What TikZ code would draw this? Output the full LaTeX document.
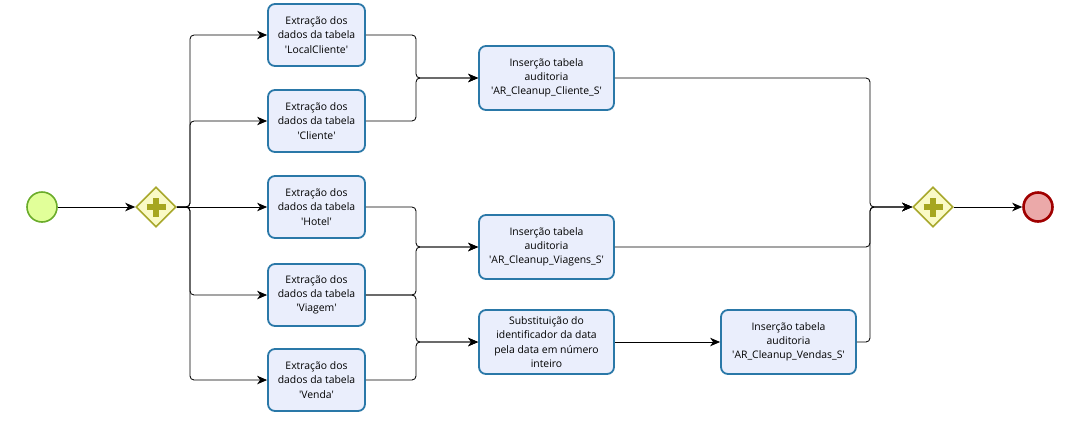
\documentclass[tikz,border=0pt]{standalone}
\usepackage{fontspec}
\setmainfont{Open Sans}
\usetikzlibrary{arrows.meta,shapes.geometric}
\definecolor{taskb}{HTML}{2A78A8}
\definecolor{taskf}{HTML}{EAEEFC}
\definecolor{gatb}{HTML}{A8A82C}
\definecolor{gatf}{HTML}{FAFAC6}
\definecolor{gatplus}{HTML}{A6A620}
\definecolor{startb}{HTML}{6AAC2A}
\definecolor{startf}{HTML}{E1FF99}
\definecolor{endb}{HTML}{A00000}
\definecolor{endf}{HTML}{EBA9A9}
\newcommand{\qq}{\textquotesingle}
\begin{document}
\begin{tikzpicture}[x=1pt,y=-1pt,
  task/.style={draw=taskb, fill=taskf, line width=1.8pt, rounded corners=7pt,
    minimum width=97pt, minimum height=62pt, align=center, text=black,
    font=\fontsize{10.4}{14.2}\selectfont, inner sep=1pt},
  widetask/.style={task, minimum width=135pt, minimum height=64pt},
  flow/.style={draw=black, line width=0.85pt, rounded corners=4pt,
    -{Stealth[length=10pt,width=8.5pt,inset=3pt]}},
  gateway/.style={diamond, draw=gatb, fill=gatf, line width=1.6pt,
    minimum width=40pt, minimum height=40pt, inner sep=0pt},
  startev/.style={circle, draw=startb, fill=startf, line width=1.6pt,
    minimum size=30pt, inner sep=0pt},
  endev/.style={circle, draw=endb, fill=endf, line width=2.6pt,
    minimum size=29pt, inner sep=0pt},
  plus/.style={draw=gatplus, line width=6pt}
]
\useasboundingbox (0,0) rectangle (1071,421);

% events and gateways
\node[startev] (s) at (42,207) {};
\node[gateway] (g1) at (156,207) {};
\node[gateway] (g2) at (933,207) {};
\node[endev] (e) at (1038,207) {};
\foreach \g in {g1,g2}{
  \draw[plus] ([xshift=-9.5pt]\g.center) -- ([xshift=9.5pt]\g.center);
  \draw[plus] ([yshift=-9.5pt]\g.center) -- ([yshift=9.5pt]\g.center);
}

% extraction tasks
\node[task] (t1) at (316.5,35)  {Extração dos\\dados da tabela\\\qq LocalCliente\qq};
\node[task] (t2) at (316.5,121) {Extração dos\\dados da tabela\\\qq Cliente\qq};
\node[task] (t3) at (316.5,207) {Extração dos\\dados da tabela\\\qq Hotel\qq};
\node[task] (t4) at (316.5,295) {Extração dos\\dados da tabela\\\qq Viagem\qq};
\node[task] (t5) at (316.5,380) {Extração dos\\dados da tabela\\\qq Venda\qq};

% second column
\node[widetask] (i1) at (546.5,78)  {Inserção tabela\\auditoria\\\qq AR\_Cleanup\_Cliente\_S\qq};
\node[widetask] (i2) at (546.5,247) {Inserção tabela\\auditoria\\\qq AR\_Cleanup\_Viagens\_S\qq};
\node[widetask] (sb) at (546.5,342) {Substituição do\\identificador da data\\pela data em número\\inteiro};
\node[widetask] (iv) at (788.5,342) {Inserção tabela\\auditoria\\\qq AR\_Cleanup\_Vendas\_S\qq};

% routing columns
\coordinate (bx) at (190,0);
\coordinate (mx) at (416,0);
\coordinate (rx) at (870,0);

% flows
\draw[flow] (s) -- (g1);
\draw[flow] (g1.east) -- (g1.east -| bx) |- (t1.west);
\draw[flow] (g1.east) -- (g1.east -| bx) |- (t2.west);
\draw[flow] (g1.east) -- (t3.west);
\draw[flow] (g1.east) -- (g1.east -| bx) |- (t4.west);
\draw[flow] (g1.east) -- (g1.east -| bx) |- (t5.west);

\draw[flow] (t1.east) -- (t1.east -| mx) |- (i1.west);
\draw[flow] (t2.east) -- (t2.east -| mx) |- (i1.west);
\draw[flow] (t3.east) -- (t3.east -| mx) |- (i2.west);
\draw[flow] (t4.east) -- (t4.east -| mx) |- (i2.west);
\draw[flow] (t4.east) -- (t4.east -| mx) |- (sb.west);
\draw[flow] (t5.east) -- (t5.east -| mx) |- (sb.west);

\draw[flow] (sb) -- (iv);

\draw[flow] (i1.east) -- (i1.east -| rx) |- (g2.west);
\draw[flow] (i2.east) -- (i2.east -| rx) |- (g2.west);
\draw[flow] (iv.east) -- (iv.east -| rx) |- (g2.west);

\draw[flow] (g2) -- (e);
\end{tikzpicture}
\end{document}
